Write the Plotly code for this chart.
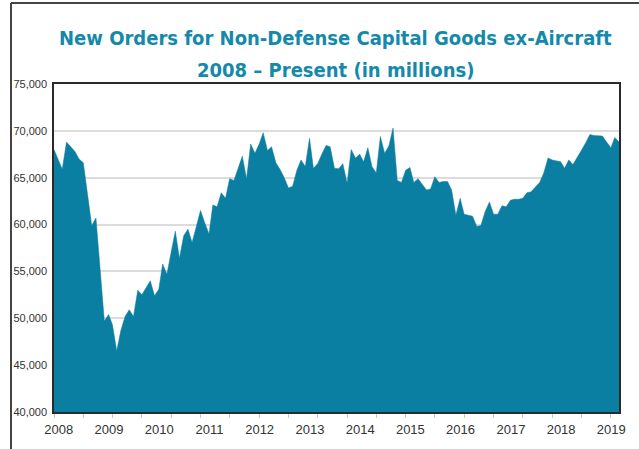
import pandas as pd
import plotly.graph_objects as go

# Monthly new orders, non-defense capital goods ex-aircraft (millions), Jan 2008 - Apr 2019
orders = [
    68000, 67000, 65900, 68800, 68300, 67800, 67000, 66600, 63200, 59900, 60700, 55000,
    49700, 50400, 49300, 46500, 48700, 50200, 50900, 50200, 53000, 52500, 53300, 54000,
    52400, 53100, 55800, 54700, 57000, 59300, 56400, 58800, 59500, 58100, 59800, 61500,
    60200, 59000, 62100, 61900, 63400, 62800, 64900, 64700, 66000, 67300, 64900, 68600,
    67600, 68600, 69800, 67900, 68300, 66600, 65900, 65000, 63900, 64100, 65800, 66900,
    66200, 69200, 66000, 66500, 67500, 68450, 68300, 66000, 65950, 66500, 64400, 68000,
    67100, 67500, 66700, 68200, 66200, 65500, 69400, 67600, 68400, 70300, 64700, 64500,
    65800, 66100, 64500, 64900, 64300, 63700, 63800, 65100, 64500, 64600, 64600, 63700,
    61000, 62800, 61100, 61000, 60900, 59800, 59900, 61400, 62400, 61100, 61100, 62000,
    61900, 62600, 62700, 62700, 62800, 63400, 63500, 64000, 64500, 65500, 67100, 66900,
    66800, 66700, 66000, 66900, 66400, 67100, 67900, 68700, 69600, 69500, 69500, 69450,
    68800, 68200, 69300, 68800,
]
months = pd.date_range("2008-01-01", periods=len(orders), freq="MS")

year_labels = [str(y) for y in range(2008, 2020)]
year_positions = [f"{y}-02-04" for y in range(2008, 2020)]
y_ticks = [40000, 45000, 50000, 55000, 60000, 65000, 70000, 75000]
title_lines = ["New Orders for Non-Defense Capital Goods ex-Aircraft",
               "2008 \u2013 Present (in millions)"]

TEAL = "#0a7fa1"
TITLE = "#1489aa"

fig = go.Figure()
fig.add_trace(go.Scatter(
    x=months, y=orders, mode="lines", fill="tozeroy",
    line=dict(color=TEAL, width=0.5), fillcolor=TEAL,
    hoverinfo="x+y", showlegend=False,
))

W, H = 639, 449
L, R, T, B = 54, 20, 84, 37
pw, ph = W - L - R, H - T - B

def px_x(px):
    return (px - L) / pw

def px_y(py):
    return (H - B - py) / ph

title_font = dict(family="DejaVu Sans Condensed, Liberation Sans Narrow, Arial Narrow, sans-serif",
                  size=20, color=TITLE, weight="bold")

fig.update_layout(
    width=W, height=H,
    margin=dict(l=L, r=R, t=T, b=B),
    paper_bgcolor="white", plot_bgcolor="white",
    annotations=[
        dict(text=title_lines[0], xref="paper", yref="paper", x=px_x(335), y=px_y(38),
             xanchor="center", yanchor="middle", showarrow=False, font=title_font),
        dict(text=title_lines[1], xref="paper", yref="paper", x=px_x(335), y=px_y(70),
             xanchor="center", yanchor="middle", showarrow=False, font=title_font),
    ],
    xaxis=dict(
        range=[months[0], months[-1]],
        tickmode="array", tickvals=year_positions, ticktext=year_labels,
        ticks="", showgrid=False, showline=True, linecolor="#2a2a2a", linewidth=1.5,
        mirror=True, zeroline=False,
        tickfont=dict(family="Liberation Sans, Arial, sans-serif", size=13, color="#333333"),
        ticklabelstandoff=5,
        minor=dict(ticks="outside", tick0="2008-01-01", dtick="M7", ticklen=4,
                   tickcolor="#c8c8c8", tickwidth=1, showgrid=False),
    ),
    yaxis=dict(
        range=[40000, 75000],
        tickmode="array", tickvals=y_ticks, tickformat=",",
        showgrid=True, gridcolor="#dcdcdc", gridwidth=1.5,
        showline=True, linecolor="#2a2a2a", linewidth=1.5, mirror=True,
        zeroline=False, ticks="",
        tickfont=dict(family="Liberation Sans, Arial, sans-serif", size=11, color="#333333"),
        ticklabelstandoff=3,
    ),
    shapes=[
        dict(type="line", xref="paper", yref="paper",
             x0=px_x(11), x1=px_x(639), y0=px_y(3), y1=px_y(3),
             line=dict(color="#444444", width=2)),
        dict(type="line", xref="paper", yref="paper",
             x0=px_x(11), x1=px_x(11), y0=px_y(3), y1=px_y(449),
             line=dict(color="#444444", width=2)),
    ],
)

fig.write_html("out.html")
